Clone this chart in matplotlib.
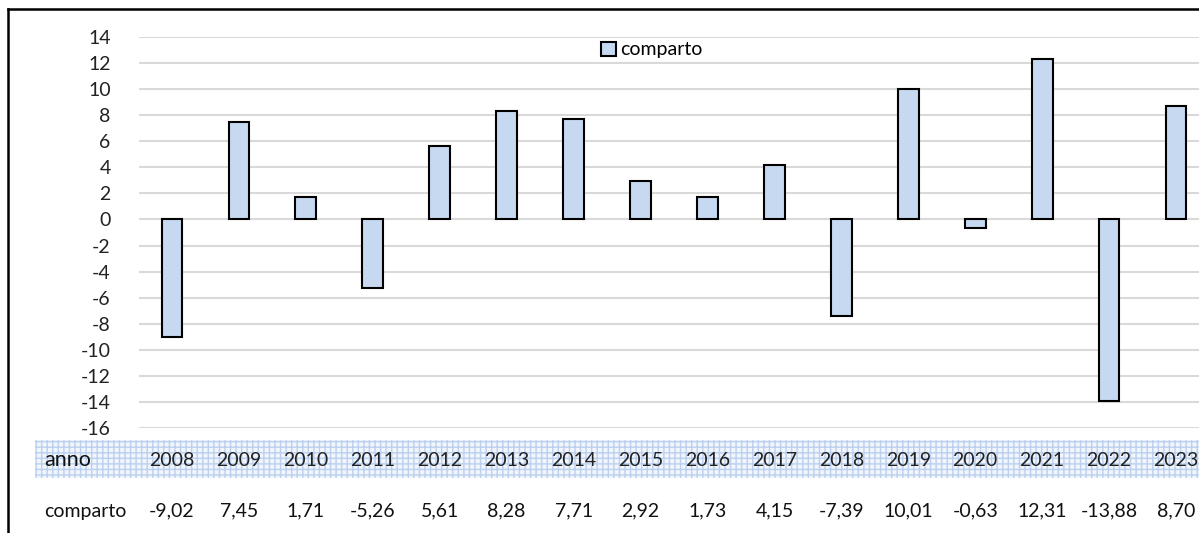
import matplotlib.pyplot as plt
from matplotlib.patches import Rectangle, Patch
from matplotlib.lines import Line2D

anni = ["2008", "2009", "2010", "2011", "2012", "2013", "2014", "2015",
        "2016", "2017", "2018", "2019", "2020", "2021", "2022", "2023"]
comparto = [-9.02, 7.45, 1.71, -5.26, 5.61, 8.28, 7.71, 2.92,
            1.73, 4.15, -7.39, 10.01, -0.63, 12.31, -13.88, 8.70]
yticks = list(range(-16, 15, 2))

plt.rcParams["font.family"] = ["Lato", "DejaVu Sans"]

W, H = 1199, 533
fig = plt.figure(figsize=(W / 100, H / 100), dpi=100)

# axes goes a bit past the right edge, like the cropped original
left, right = 138.5, 1209.5
top, bottom = 36.7, 428.3
ax = fig.add_axes([left / W, 1 - bottom / H, (right - left) / W, (bottom - top) / H])

x = list(range(len(anni)))
ax.bar(x, comparto, width=0.31, color="#c6d9f0", edgecolor="black", linewidth=1.5, zorder=3)

ax.set_xlim(-0.5, len(anni) - 0.5)
ax.set_ylim(-16, 14)
ax.set_yticks(yticks)
ax.set_yticklabels([str(v) for v in yticks], fontsize=14, color="#222222")
ax.tick_params(axis="y", length=0, pad=20)
ax.set_xticks([])
ax.grid(axis="y", color="#d9d9d9", linewidth=1.5, zorder=0)
for s in ax.spines.values():
    s.set_visible(False)

ax.legend(handles=[Patch(facecolor="#c6d9f0", edgecolor="black", linewidth=1.5, label="comparto")],
          loc="center", bbox_to_anchor=(652 / W, 1 - 50 / H), bbox_transform=fig.transFigure,
          frameon=False, fontsize=14, handlelength=0.75, handleheight=0.75, handletextpad=0.25)

# data table under the chart
fig.patches.append(Rectangle((35 / W, 1 - 478 / H), (W - 35) / W, 38 / H, transform=fig.transFigure,
                             facecolor="#f1f5fc", edgecolor="#bcd0ef", hatch="+++", linewidth=0, zorder=0))
fig.text(44 / W, 1 - 460 / H, "anno", fontsize=15.5, va="center", ha="left", color="#111111")
fig.text(44 / W, 1 - 511 / H, "comparto", fontsize=14, va="center", ha="left", color="#111111")
for i, (a, v) in enumerate(zip(anni, comparto)):
    xc = ax.transData.transform((i, 0))[0] / fig.dpi / fig.get_figwidth()
    fig.text(xc, 1 - 460 / H, a, fontsize=14, ha="center", va="center", color="#222222")
    fig.text(xc, 1 - 511 / H, f"{v:.2f}".replace(".", ","), fontsize=14, ha="center", va="center",
             color="#111111")

# outer frame (left and top sides visible)
fig.add_artist(Line2D([8 / W, 8 / W], [0, 1 - 9 / H], color="black", linewidth=1.8, transform=fig.transFigure))
fig.add_artist(Line2D([8 / W, 1], [1 - 9 / H, 1 - 9 / H], color="black", linewidth=1.8, transform=fig.transFigure))

fig.savefig("out.png", dpi=100)
